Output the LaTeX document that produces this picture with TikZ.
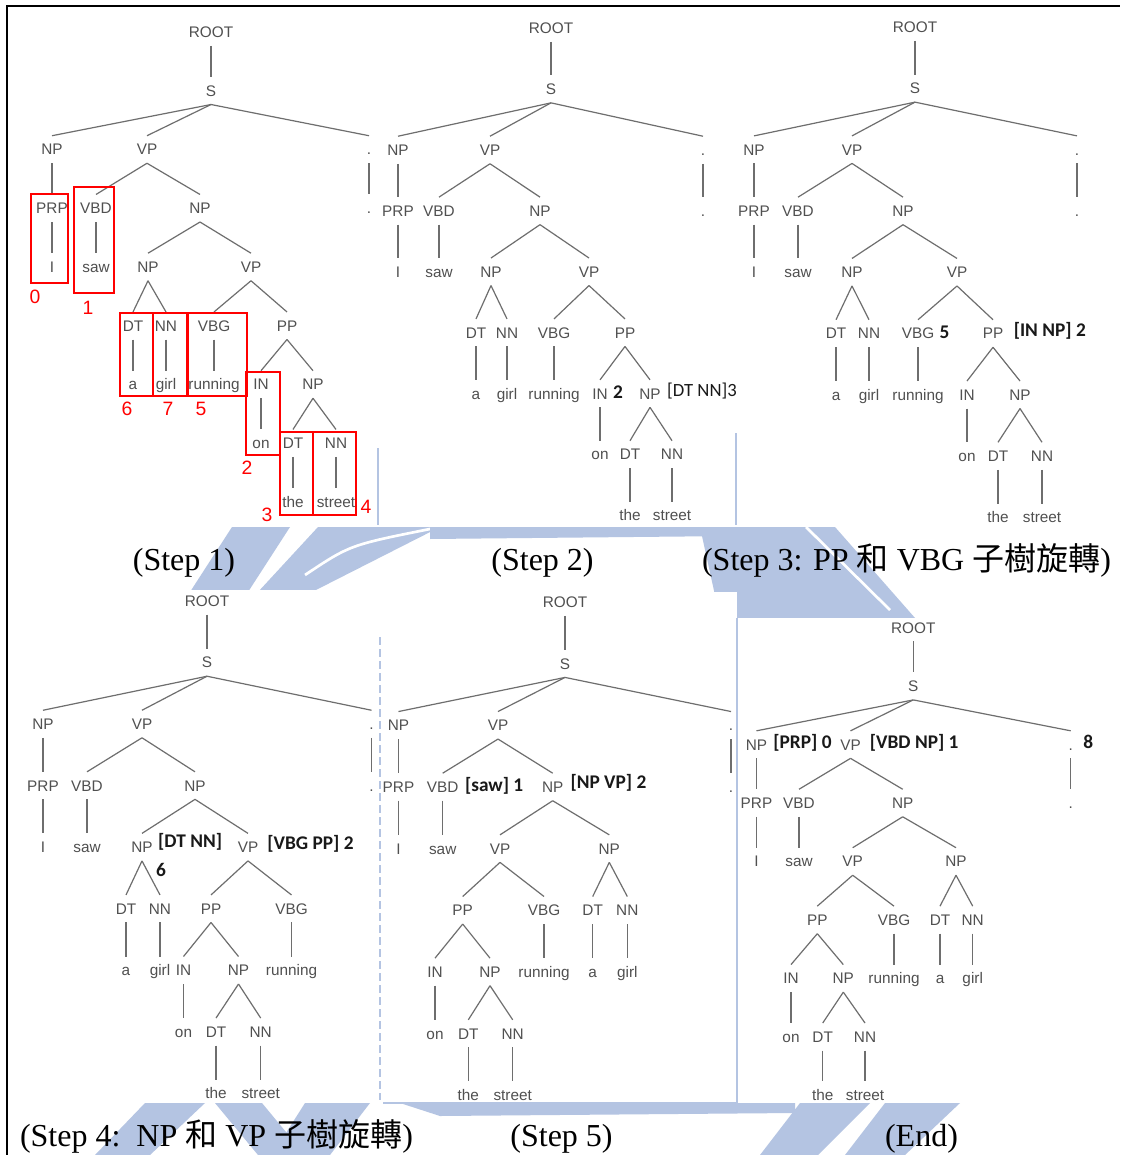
\documentclass[tikz,border=0pt]{standalone}
\usepackage{fontspec}
\setmainfont{Liberation Serif}
\newfontfamily\treefont{Liberation Sans}
\newfontfamily\notefont{Carlito}
\newfontfamily\cjk{Noto Sans CJK TC}
\usetikzlibrary{positioning}
\definecolor{labgray}{HTML}{505050}
\definecolor{branchgray}{HTML}{6E6E6E}
\definecolor{markred}{HTML}{FF0000}
\definecolor{wmblue}{HTML}{B4C4E2}
\newcommand{\zh}[1]{{\cjk #1}}
\tikzset{
  lab/.style={font=\treefont\fontsize{11.5}{12}\selectfont,text=labgray,inner sep=0pt,
    text height=8.2pt,text depth=0pt,minimum height=20.25pt},
  br/.style={draw=branchgray,line width=0.9pt},
  note/.style={font=\notefont\bfseries\fontsize{14.5}{15}\selectfont,text=black!90,inner sep=0pt,anchor=base west},
  notereg/.style={note,font=\notefont\fontsize{14}{15}\selectfont},
  redbox/.style={draw=markred,line width=1.5pt},
  rednum/.style={font=\treefont\fontsize{14.5}{15}\selectfont,text=markred,inner sep=0pt},
  caption/.style={font=\fontsize{24}{28}\selectfont,inner sep=0pt,anchor=base},
  wm/.style={fill=wmblue,draw=none}
}
\begin{document}
\begin{tikzpicture}[x=0.75pt,y=-0.75pt]
  \useasboundingbox (0,0) rectangle (1120,1155);
  \fill[white] (0,0) rectangle (1120,1155);
  % watermark behind the screenshots
  \fill[wm] (190,592) -- (232,527) -- (290,527) -- (248,592) -- cycle;
  \fill[wm] (258,592) -- (318,527) -- (440,527) -- (312,592) -- cycle;
  \draw[white,line width=2pt] (305,575) .. controls (350,545) .. (430,529);
  \fill[wm] (430,527) -- (735,527) -- (735,536) -- (430,539) -- cycle;
  \fill[wm] (700,527) -- (835,527) -- (915,618) -- (720,618) -- cycle;
  \draw[white,line width=2pt] (806,527) -- (890,610);
  \fill[wm] (145,1103) -- (205,1103) -- (150,1155) -- (95,1155) -- cycle;
  \fill[wm] (215,1103) -- (262,1103) -- (305,1155) -- (258,1155) -- cycle;
  \fill[wm] (305,1103) -- (370,1103) -- (330,1155) -- (272,1155) -- cycle;
  \fill[wm] (400,1103) -- (795,1103) -- (795,1113) -- (440,1116) -- cycle;
  \fill[wm] (800,1103) -- (870,1103) -- (818,1155) -- (760,1155) -- cycle;
  \fill[wm] (885,1103) -- (960,1103) -- (905,1155) -- (845,1155) -- cycle;
  % screenshots
  \fill[white] (8,7) rectangle (1120,527);
  \fill[white] (8,590) rectangle (379,1103);
  \fill[white] (381,592) rectangle (737,1103);
  \fill[white] (738,618) rectangle (1120,1103);
  \draw[wmblue,line width=1.5pt] (378,448) -- (378,525);
  \draw[wmblue,line width=1.5pt] (736,433) -- (736,525);
  \draw[wmblue,line width=1.5pt,dash pattern=on 6pt off 3pt] (380,637) -- (380,1100);
  \draw[wmblue,line width=1.8pt] (737,618) -- (737,1103) -- (383,1103);
  \draw[line width=1.7pt] (7,1155) -- (7,6) -- (1120,6);

  % Step 1
  \begin{scope}[shift={(0,32)},y=-44.06pt]
    \node[lab] (aR) at (211,0) {ROOT};
    \node[lab] (aS) at (211,1) {S};
    \node[lab] (aNP) at (52,2) {NP};
    \node[lab] (aVP) at (147,2) {VP};
    \node[lab] (aPt) at (369,2) {.};
    \node[lab] (aPRP) at (52,3) {PRP};
    \node[lab] (aVBD) at (96,3) {VBD};
    \node[lab] (aNPb) at (200,3) {NP};
    \node[lab] (aPtb) at (369,3) {.};
    \node[lab] (aI) at (52,4) {I};
    \node[lab] (aSaw) at (96,4) {saw};
    \node[lab] (aNPc) at (148,4) {NP};
    \node[lab] (aVPc) at (251,4) {VP};
    \node[lab] (aDT) at (133,5) {DT};
    \node[lab] (aNN) at (166,5) {NN};
    \node[lab] (aVBG) at (214,5) {VBG};
    \node[lab] (aPP) at (287,5) {PP};
    \node[lab] (aA) at (133,6) {a};
    \node[lab] (aGirl) at (166,6) {girl};
    \node[lab] (aRun) at (214,6) {running};
    \node[lab] (aIN) at (261,6) {IN};
    \node[lab] (aNPd) at (313,6) {NP};
    \node[lab] (aOn) at (261,7) {on};
    \node[lab] (aDTb) at (293,7) {DT};
    \node[lab] (aNNb) at (336,7) {NN};
    \node[lab] (aThe) at (293,8) {the};
    \node[lab] (aStr) at (336,8) {street};
  \end{scope}
  \foreach \p/\c in {aR/aS,aS/aNP,aS/aVP,aS/aPt,aNP/aPRP,aVP/aVBD,aVP/aNPb,aPt/aPtb,
      aPRP/aI,aVBD/aSaw,aNPb/aNPc,aNPb/aVPc,aNPc/aDT,aNPc/aNN,aVPc/aVBG,aVPc/aPP,
      aDT/aA,aNN/aGirl,aVBG/aRun,aPP/aIN,aPP/aNPd,aIN/aOn,aNPd/aDTb,aNPd/aNNb,
      aDTb/aThe,aNNb/aStr}
    \draw[br] (\p.south) -- (\c.north);
  \draw[redbox] (31,194) rectangle (68,283);
  \draw[redbox] (74,187) rectangle (114,293);
  \draw[redbox] (120,313) rectangle (153,396);
  \draw[redbox] (153,313) rectangle (187,396);
  \draw[redbox] (188,313) rectangle (247,396);
  \draw[redbox] (246,372) rectangle (280,455);
  \draw[redbox] (280,432) rectangle (313,515);
  \draw[redbox] (313,432) rectangle (356,515);
  \node[rednum] (n0) at (35,297) {0};
  \node[rednum] (n1) at (88,308) {1};
  \node[rednum] (n6) at (127,409) {6};
  \node[rednum] (n7) at (168,409) {7};
  \node[rednum] (n5) at (201,409) {5};
  \node[rednum] (n2) at (247,468) {2};
  \node[rednum] (n3) at (267,515) {3};
  \node[rednum] (n4) at (366,507) {4};

  % Step 2
  \begin{scope}[shift={(0,28.2)},y=-45.675pt]
    \node[lab] (bR) at (551,0) {ROOT};
    \node[lab] (bS) at (551,1) {S};
    \node[lab] (bNP) at (398,2) {NP};
    \node[lab] (bVP) at (490,2) {VP};
    \node[lab] (bPt) at (703,2) {.};
    \node[lab] (bPRP) at (398,3) {PRP};
    \node[lab] (bVBD) at (439,3) {VBD};
    \node[lab] (bNPb) at (540,3) {NP};
    \node[lab] (bPtb) at (703,3) {.};
    \node[lab] (bI) at (398,4) {I};
    \node[lab] (bSaw) at (439,4) {saw};
    \node[lab] (bNPc) at (491,4) {NP};
    \node[lab] (bVPc) at (589,4) {VP};
    \node[lab] (bDT) at (476,5) {DT};
    \node[lab] (bNN) at (507,5) {NN};
    \node[lab] (bVBG) at (554,5) {VBG};
    \node[lab] (bPP) at (625,5) {PP};
    \node[lab] (bA) at (476,6) {a};
    \node[lab] (bGirl) at (507,6) {girl};
    \node[lab] (bRun) at (554,6) {running};
    \node[lab] (bIN) at (600,6) {IN};
    \node[lab] (bNPd) at (650,6) {NP};
    \node[lab] (bOn) at (600,7) {on};
    \node[lab] (bDTb) at (630,7) {DT};
    \node[lab] (bNNb) at (672,7) {NN};
    \node[lab] (bThe) at (630,8) {the};
    \node[lab] (bStr) at (672,8) {street};
  \end{scope}
  \foreach \p/\c in {bR/bS,bS/bNP,bS/bVP,bS/bPt,bNP/bPRP,bVP/bVBD,bVP/bNPb,bPt/bPtb,
      bPRP/bI,bVBD/bSaw,bNPb/bNPc,bNPb/bVPc,bNPc/bDT,bNPc/bNN,bVPc/bVBG,bVPc/bPP,
      bDT/bA,bNN/bGirl,bVBG/bRun,bPP/bIN,bPP/bNPd,bIN/bOn,bNPd/bDTb,bNPd/bNNb,
      bDTb/bThe,bNNb/bStr}
    \draw[br] (\p.south) -- (\c.north);
  \node[note] (bINx) at ([xshift=3.75pt,yshift=0.5pt]bIN.base east) {2};
  \node[notereg] (bNPx) at ([xshift=4.5pt,yshift=2pt]bNPd.base east) {[DT NN]3};

  % Step 3
  \begin{scope}[shift={(0,27.1)},y=-45.96pt]
    \node[lab] (cR) at (915,0) {ROOT};
    \node[lab] (cS) at (915,1) {S};
    \node[lab] (cNP) at (754,2) {NP};
    \node[lab] (cVP) at (852,2) {VP};
    \node[lab] (cPt) at (1077,2) {.};
    \node[lab] (cPRP) at (754,3) {PRP};
    \node[lab] (cVBD) at (798,3) {VBD};
    \node[lab] (cNPb) at (903,3) {NP};
    \node[lab] (cPtb) at (1077,3) {.};
    \node[lab] (cI) at (754,4) {I};
    \node[lab] (cSaw) at (798,4) {saw};
    \node[lab] (cNPc) at (852,4) {NP};
    \node[lab] (cVPc) at (957,4) {VP};
    \node[lab] (cDT) at (836,5) {DT};
    \node[lab] (cNN) at (869,5) {NN};
    \node[lab] (cVBG) at (918,5) {VBG};
    \node[lab] (cPP) at (993,5) {PP};
    \node[lab] (cA) at (836,6) {a};
    \node[lab] (cGirl) at (869,6) {girl};
    \node[lab] (cRun) at (918,6) {running};
    \node[lab] (cIN) at (967,6) {IN};
    \node[lab] (cNPd) at (1020,6) {NP};
    \node[lab] (cOn) at (967,7) {on};
    \node[lab] (cDTb) at (998,7) {DT};
    \node[lab] (cNNb) at (1042,7) {NN};
    \node[lab] (cThe) at (998,8) {the};
    \node[lab] (cStr) at (1042,8) {street};
  \end{scope}
  \foreach \p/\c in {cR/cS,cS/cNP,cS/cVP,cS/cPt,cNP/cPRP,cVP/cVBD,cVP/cNPb,cPt/cPtb,
      cPRP/cI,cVBD/cSaw,cNPb/cNPc,cNPb/cVPc,cNPc/cDT,cNPc/cNN,cVPc/cVBG,cVPc/cPP,
      cDT/cA,cNN/cGirl,cVBG/cRun,cPP/cIN,cPP/cNPd,cIN/cOn,cNPd/cDTb,cNPd/cNNb,
      cDTb/cThe,cNNb/cStr}
    \draw[br] (\p.south) -- (\c.north);
  \node[note] (cVBGx) at ([xshift=3.75pt]cVBG.base east) {5};
  \node[note] (cPPx) at ([xshift=7.5pt,yshift=2pt]cPP.base east) {[IN NP] 2};

  % Step 4
  \begin{scope}[shift={(0,600.9)},y=-46.17pt]
    \node[lab] (dR) at (207,0) {ROOT};
    \node[lab] (dS) at (207,1) {S};
    \node[lab] (dNP) at (43,2) {NP};
    \node[lab] (dVP) at (142,2) {VP};
    \node[lab] (dPt) at (371.5,2) {.};
    \node[lab] (dPRP) at (43,3) {PRP};
    \node[lab] (dVBD) at (87,3) {VBD};
    \node[lab] (dNPb) at (195,3) {NP};
    \node[lab] (dPtb) at (371.5,3) {.};
    \node[lab] (dI) at (43,4) {I};
    \node[lab] (dSaw) at (87,4) {saw};
    \node[lab] (dNPc) at (142,4) {NP};
    \node[lab] (dVPc) at (248,4) {VP};
    \node[lab] (dDT) at (126,5) {DT};
    \node[lab] (dNN) at (160,5) {NN};
    \node[lab] (dPP) at (211,5) {PP};
    \node[lab] (dVBG) at (291.5,5) {VBG};
    \node[lab] (dA) at (126,6) {a};
    \node[lab] (dGirl) at (160,6) {girl};
    \node[lab] (dIN) at (183.5,6) {IN};
    \node[lab] (dNPd) at (238.5,6) {NP};
    \node[lab] (dRun) at (291.5,6) {running};
    \node[lab] (dOn) at (183.5,7) {on};
    \node[lab] (dDTb) at (216,7) {DT};
    \node[lab] (dNNb) at (260.7,7) {NN};
    \node[lab] (dThe) at (216,8) {the};
    \node[lab] (dStr) at (260.7,8) {street};
    \node[note,anchor=center] (dSix) at (161,4.37) {6};
  \end{scope}
  \foreach \p/\c in {dR/dS,dS/dNP,dS/dVP,dS/dPt,dNP/dPRP,dVP/dVBD,dVP/dNPb,dPt/dPtb,
      dPRP/dI,dVBD/dSaw,dNPb/dNPc,dNPb/dVPc,dNPc/dDT,dNPc/dNN,dVPc/dPP,dVPc/dVBG,
      dDT/dA,dNN/dGirl,dPP/dIN,dPP/dNPd,dVBG/dRun,dIN/dOn,dNPd/dDTb,dNPd/dNNb,
      dDTb/dThe,dNNb/dStr}
    \draw[br] (\p.south) -- (\c.north);
  \node[note] (dNPx) at ([xshift=3.75pt,yshift=4pt]dNPc.base east) {[DT NN]};
  \node[note] (dVPx) at ([xshift=6.5pt,yshift=2.5pt]dVPc.base east) {[VBG PP] 2};

  % Step 5
  \begin{scope}[shift={(0,602)},y=-46.24pt]
    \node[lab] (eR) at (565,0) {ROOT};
    \node[lab] (eS) at (565,1) {S};
    \node[lab] (eNP) at (398.5,2) {NP};
    \node[lab] (eVP) at (498,2) {VP};
    \node[lab] (ePt) at (731,2) {.};
    \node[lab] (ePRP) at (398.5,3) {PRP};
    \node[lab] (eVBD) at (442.7,3) {VBD};
    \node[lab] (eNPb) at (552.7,3) {NP};
    \node[lab] (ePtb) at (731,3) {.};
    \node[lab] (eI) at (398.5,4) {I};
    \node[lab] (eSaw) at (442.7,4) {saw};
    \node[lab] (eVPc) at (500,4) {VP};
    \node[lab] (eNPc) at (609.3,4) {NP};
    \node[lab] (ePP) at (462.7,5) {PP};
    \node[lab] (eVBG) at (544,5) {VBG};
    \node[lab] (eDT) at (592.7,5) {DT};
    \node[lab] (eNN) at (627.3,5) {NN};
    \node[lab] (eIN) at (435,6) {IN};
    \node[lab] (eNPd) at (490,6) {NP};
    \node[lab] (eRun) at (544,6) {running};
    \node[lab] (eA) at (592.7,6) {a};
    \node[lab] (eGirl) at (627.3,6) {girl};
    \node[lab] (eOn) at (435,7) {on};
    \node[lab] (eDTb) at (468.3,7) {DT};
    \node[lab] (eNNb) at (512.7,7) {NN};
    \node[lab] (eThe) at (468.3,8) {the};
    \node[lab] (eStr) at (512.7,8) {street};
  \end{scope}
  \foreach \p/\c in {eR/eS,eS/eNP,eS/eVP,eS/ePt,eNP/ePRP,eVP/eVBD,eVP/eNPb,ePt/ePtb,
      ePRP/eI,eVBD/eSaw,eNPb/eVPc,eNPb/eNPc,eVPc/ePP,eVPc/eVBG,eNPc/eDT,eNPc/eNN,
      ePP/eIN,ePP/eNPd,eVBG/eRun,eDT/eA,eNN/eGirl,eIN/eOn,eNPd/eDTb,eNPd/eNNb,
      eDTb/eThe,eNNb/eStr}
    \draw[br] (\p.south) -- (\c.north);
  \node[note] (eVBDx) at ([xshift=4.5pt,yshift=1pt]eVBD.base east) {[saw] 1};
  \node[note] (eNPx) at ([xshift=5pt,yshift=3pt]eNPb.base east) {[NP VP] 2};

  % End
  \begin{scope}[shift={(0,627.7)},y=-43.83pt]
    \node[lab] (fR) at (913.3,0) {ROOT};
    \node[lab] (fS) at (913.3,1) {S};
    \node[lab] (fNP) at (756.5,2) {NP};
    \node[lab] (fVP) at (850.5,2) {VP};
    \node[lab] (fPt) at (1070.7,2) {.};
    \node[lab] (fPRP) at (756.5,3) {PRP};
    \node[lab] (fVBD) at (799,3) {VBD};
    \node[lab] (fNPb) at (902.7,3) {NP};
    \node[lab] (fPtb) at (1070.7,3) {.};
    \node[lab] (fI) at (756.5,4) {I};
    \node[lab] (fSaw) at (799,4) {saw};
    \node[lab] (fVPc) at (852.7,4) {VP};
    \node[lab] (fNPc) at (956,4) {NP};
    \node[lab] (fPP) at (817.3,5) {PP};
    \node[lab] (fVBG) at (894,5) {VBG};
    \node[lab] (fDT) at (940,5) {DT};
    \node[lab] (fNN) at (972.7,5) {NN};
    \node[lab] (fIN) at (791,6) {IN};
    \node[lab] (fNPd) at (843.3,6) {NP};
    \node[lab] (fRun) at (894,6) {running};
    \node[lab] (fA) at (940,6) {a};
    \node[lab] (fGirl) at (972.7,6) {girl};
    \node[lab] (fOn) at (791,7) {on};
    \node[lab] (fDTb) at (822.7,7) {DT};
    \node[lab] (fNNb) at (865,7) {NN};
    \node[lab] (fThe) at (822.7,8) {the};
    \node[lab] (fStr) at (865,8) {street};
  \end{scope}
  \foreach \p/\c in {fR/fS,fS/fNP,fS/fVP,fS/fPt,fNP/fPRP,fVP/fVBD,fVP/fNPb,fPt/fPtb,
      fPRP/fI,fVBD/fSaw,fNPb/fVPc,fNPb/fNPc,fVPc/fPP,fVPc/fVBG,fNPc/fDT,fNPc/fNN,
      fPP/fIN,fPP/fNPd,fVBG/fRun,fDT/fA,fNN/fGirl,fIN/fOn,fNPd/fDTb,fNPd/fNNb,
      fDTb/fThe,fNNb/fStr}
    \draw[br] (\p.south) -- (\c.north);
  \node[note] (fNPx) at ([xshift=4.3pt,yshift=1.5pt]fNP.base east) {[PRP] 0};
  \node[note] (fVPx) at ([xshift=6.5pt,yshift=1.5pt]fVP.base east) {[VBD NP] 1};
  \node[note] (fPtx) at ([xshift=7.5pt,yshift=1.5pt]fPt.base east) {8};

  % captions
  \node[caption] (cap1) at (184,570) {(Step 1)};
  \node[caption] (cap2) at (542.5,570) {(Step 2)};
  \node[caption] (cap3) at (906.5,570) {(Step 3: PP \zh{和} VBG \zh{子樹旋轉})};
  \node[caption] (cap4) at (216.5,1146) {(Step 4:\ \ NP \zh{和} VP \zh{子樹旋轉})};
  \node[caption] (cap5) at (561.5,1146) {(Step 5)};
  \node[caption] (cap6) at (921.5,1146) {(End)};
\end{tikzpicture}
\end{document}
